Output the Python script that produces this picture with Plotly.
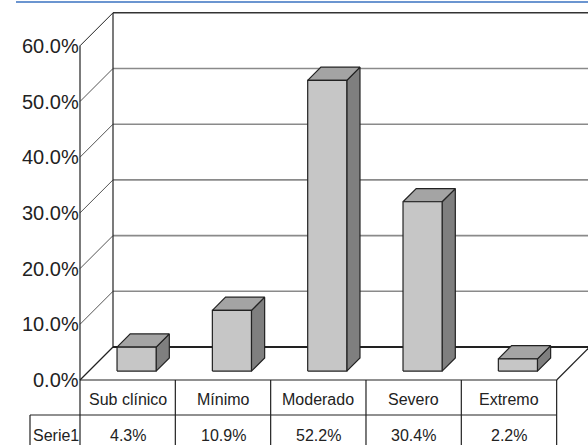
import plotly.graph_objects as go

# ---- data ----
categories = ["Sub clínico", "Mínimo", "Moderado", "Severo", "Extremo"]
values = [4.3, 10.9, 52.2, 30.4, 2.2]
value_labels = ["4.3%", "10.9%", "52.2%", "30.4%", "2.2%"]
series_name = "Serie1"
tick_values = [0, 10, 20, 30, 40, 50, 60]
tick_labels = ["0.0%", "10.0%", "20.0%", "30.0%", "40.0%", "50.0%", "60.0%"]

# ---- geometry (screen layout) ----
W, H = 588, 445
X0_PX = 80.0          # front-left corner x
COL_PX = 95.33        # column width in px
Y0_PX = 380.0         # front floor y
V_PX = 5.57           # px per percent
DEPTH_PX = 33.0       # oblique depth offset

DX = DEPTH_PX / COL_PX
DY = DEPTH_PX / V_PX

def vy(px):  # screen y px -> data value
    return (Y0_PX - px) / V_PX

def ux(px):  # screen x px -> category units
    return (px - X0_PX) / COL_PX

def proj(u, d, v):
    return u + d * DX, v + d * DY

n = len(categories)
vmax = tick_values[-1]

fig = go.Figure()
shapes = []

def poly_trace(pts, fill, line_color="#222222", width=1.2):
    xs = [p[0] for p in pts] + [pts[0][0]]
    ys = [p[1] for p in pts] + [pts[0][1]]
    fig.add_trace(go.Scatter(x=xs, y=ys, mode="lines", fill="toself",
                             fillcolor=fill, line=dict(color=line_color, width=width),
                             hoverinfo="skip", showlegend=False))

def line(p, q, color="#222222", width=1.2):
    shapes.append(dict(type="line", x0=p[0], y0=p[1], x1=q[0], y1=q[1],
                       xref="x", yref="y", line=dict(color=color, width=width),
                       layer="below"))

# walls & gridlines
for tv in tick_values:
    if tv in (0, vmax):
        continue
    line(proj(0, 0, tv), proj(0, 1, tv), "#555555", 1.0)
    line(proj(0, 1, tv), proj(n, 1, tv), "#8a8a8a", 1.6)
# back wall top and floor back
line(proj(0, 0, vmax), proj(0, 1, vmax), "#222222", 1.0)
line(proj(0, 1, vmax), proj(n, 1, vmax), "#333333", 1.6)
line(proj(0, 1, 0), proj(n, 1, 0), "#222222", 2.0)
# verticals
line(proj(0, 0, 0), proj(0, 0, vmax), "#222222", 1.2)
line(proj(0, 1, 0), proj(0, 1, vmax), "#222222", 1.2)
# floor
line(proj(0, 0, 0), proj(0, 1, 0), "#222222", 1.2)
line(proj(0, 0, 0), proj(n, 0, 0), "#222222", 1.2)
line(proj(n, 0, 0), proj(n, 1, 0), "#222222", 1.2)

# bars
U_OFF, U_W = 0.295, 0.41
D0, D1 = 0.27, 0.67
FRONT, TOP, SIDE = "#c6c6c6", "#a4a4a4", "#7f7f7f"
for i, v in enumerate(values):
    u0, u1 = i + U_OFF, i + U_OFF + U_W
    poly_trace([proj(u1, D0, 0), proj(u1, D1, 0), proj(u1, D1, v), proj(u1, D0, v)], SIDE)
    poly_trace([proj(u0, D0, v), proj(u1, D0, v), proj(u1, D1, v), proj(u0, D1, v)], TOP)
    poly_trace([proj(u0, D0, 0), proj(u1, D0, 0), proj(u1, D0, v), proj(u0, D0, v)], FRONT)

# data table
ROW1_PX = 415.0
HEAD_X_PX = 30.0
line((ux(HEAD_X_PX), vy(ROW1_PX)), (n, vy(ROW1_PX)), "#222222", 1.2)
for k in range(n + 1):
    line((k, 0), (k, vy(H + 2)), "#222222", 1.2)
line((ux(HEAD_X_PX), vy(ROW1_PX)), (ux(HEAD_X_PX), vy(H + 2)), "#222222", 1.2)

annotations = []
FONT = "Liberation Sans, Arial, sans-serif"
TSIZE = 16
for i, c in enumerate(categories):
    annotations.append(dict(x=i + 0.5, y=vy(399.5), text=c, showarrow=False,
                            xanchor="center", yanchor="middle",
                            font=dict(family=FONT, size=TSIZE, color="#222222")))
    annotations.append(dict(x=i + 0.5, y=vy(435), text=value_labels[i], showarrow=False,
                            xanchor="center", yanchor="middle",
                            font=dict(family=FONT, size=TSIZE, color="#222222")))
annotations.append(dict(x=ux(31), y=vy(435), text=series_name, showarrow=False,
                        xanchor="left", yanchor="middle",
                        font=dict(family=FONT, size=TSIZE, color="#222222")))
# value axis tick labels on the front wall
for tv, tl in zip(tick_values, tick_labels):
    annotations.append(dict(x=ux(81), y=tv, text=tl, showarrow=False,
                            xanchor="right", yanchor="middle",
                            font=dict(family=FONT, size=20, color="#222222")))

# blue rule at top
shapes.append(dict(type="line", xref="x", yref="y", x0=ux(16), x1=ux(W + 2),
                   y0=vy(2), y1=vy(2), line=dict(color="#3a72c0", width=1.6)))

fig.update_layout(
    width=W, height=H,
    margin=dict(l=0, r=0, t=0, b=0),
    paper_bgcolor="white", plot_bgcolor="white",
    xaxis=dict(range=[ux(0), ux(W)], visible=False, fixedrange=True),
    yaxis=dict(range=[vy(H), vy(0)], visible=False, fixedrange=True),
    shapes=shapes, annotations=annotations, showlegend=False,
)

fig.write_html("out.html")
